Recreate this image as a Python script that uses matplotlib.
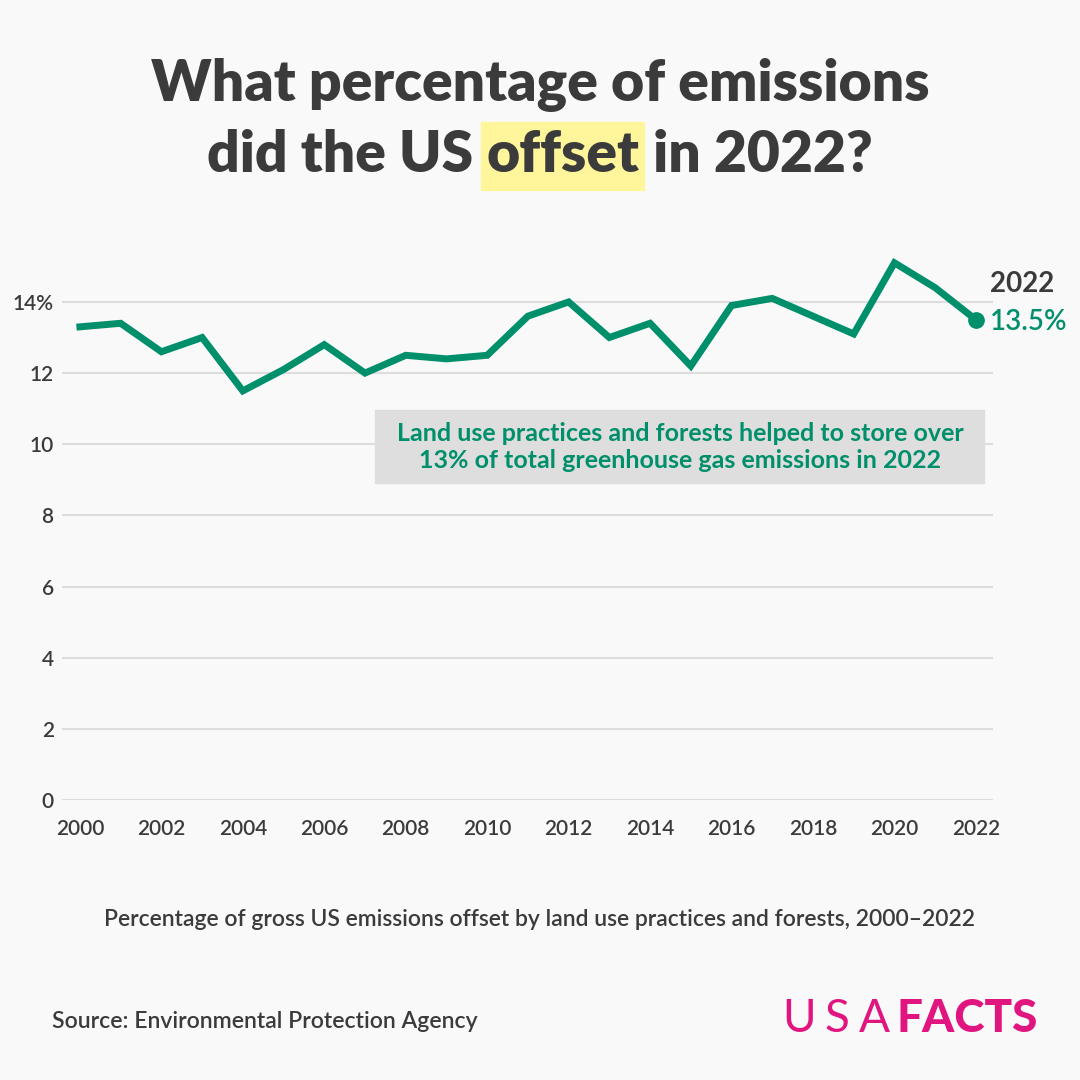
import matplotlib
matplotlib.use("Agg")
import matplotlib.pyplot as plt
from matplotlib.patches import Rectangle

years = list(range(2000, 2023))
offset_pct = [13.3, 13.4, 12.6, 13.0, 11.5, 12.1, 12.8, 12.0, 12.5, 12.4, 12.5, 13.6,
              14.0, 13.0, 13.4, 12.2, 13.9, 14.1, 13.6, 13.1, 15.1, 14.4, 13.5]
y_ticks = [0, 2, 4, 6, 8, 10, 12, 14]
y_tick_labels = ["0", "2", "4", "6", "8", "10", "12", "14%"]
x_ticks = list(range(2000, 2023, 2))

GREEN = "#008f6b"
DARK = "#3b3b3b"
BG = "#f9f9f9"
PINK = "#e0157f"
FONT = "Lato"

W = H = 1080
fig = plt.figure(figsize=(10.8, 10.8), dpi=100, facecolor=BG)

# axes position in pixels: x 62..993, y 250..800 (top-down)
ax = fig.add_axes([62 / W, 1 - 800 / H, (993 - 62) / W, (800 - 250) / H])
ax.set_facecolor(BG)
ax.plot(years, offset_pct, color=GREEN, lw=5, solid_joinstyle="miter", clip_on=False, zorder=3)
ax.plot(years[-1], offset_pct[-1], "o", color=GREEN, ms=11, clip_on=False, zorder=4)
ax.set_xlim(1999.56, 2022.42)
ax.set_ylim(0, 15.46)
ax.set_yticks(y_ticks)
ax.set_yticklabels(y_tick_labels)
ax.set_xticks(x_ticks)
for s in ax.spines.values():
    s.set_visible(False)
ax.grid(axis="y", color="#dddddd", lw=1.5)
ax.set_axisbelow(True)
ax.tick_params(length=0, labelsize=15, colors=DARK, pad=6)
ax.tick_params(axis="x", pad=14)
for lab in ax.get_xticklabels() + ax.get_yticklabels():
    lab.set_fontfamily(FONT)
    lab.set_fontweight("semibold")

# end label
ax.text(2022.35, 14.5, "2022", fontsize=20, fontweight="bold", color=DARK,
        family=FONT, va="center", ha="left")
ax.text(2022.35, 13.45, "13.5%", fontsize=20, color=GREEN, family=FONT,
        fontweight="semibold", va="center", ha="left")

# annotation box
fig.patches.append(Rectangle((375 / W, 1 - 483 / H), (984 - 375) / W, (483 - 410) / H,
                             transform=fig.transFigure, color="#dedede", zorder=1))
fig.text(680 / W, 1 - 447 / H,
         "Land use practices and forests helped to store over\n13% of total greenhouse gas emissions in 2022",
         ha="center", va="center", fontsize=18, color=GREEN, family=FONT,
         fontweight="bold", linespacing=1.2)

# title
fig.text(540 / W, 1 - 85 / H, "What percentage of emissions", ha="center", va="center",
         fontsize=41, fontweight="heavy", color=DARK, family=FONT)

renderer = fig.canvas.get_renderer()
parts = ["did the US ", "offset", " in 2022?"]
texts = []
for p in parts:
    t = fig.text(0, 1 - 155 / H, p, ha="left", va="center", fontsize=41,
                 fontweight="heavy", color=DARK, family=FONT, zorder=3)
    texts.append(t)
widths = [t.get_window_extent(renderer).width for t in texts]
x = (W - sum(widths)) / 2
for t, w in zip(texts, widths):
    t.set_x(x / W)
    x += w
hx = texts[1].get_position()[0] * W
fig.patches.append(Rectangle(((hx - 6) / W, 1 - 190 / H), (widths[1] + 10) / W, 68 / H,
                             transform=fig.transFigure, color="#fff59a", zorder=1))

# subtitle and source
fig.text(540 / W, 1 - 920 / H,
         "Percentage of gross US emissions offset by land use practices and forests, 2000\u20132022",
         ha="center", va="center", fontsize=16.5, fontweight="semibold", color=DARK, family=FONT)
fig.text(52 / W, 1 - 1021 / H, "Source: Environmental Protection Agency",
         ha="left", va="center", fontsize=16.6, fontweight="semibold", color=DARK, family=FONT)

# logo
x = 782
for ch in "USA":
    t = fig.text(x / W, 1 - 1019 / H, ch, ha="left", va="center", fontsize=33,
                 fontweight="normal", color=PINK, family=FONT)
    x += t.get_window_extent(renderer).width + 9
x -= 2
t = fig.text(x / W, 1 - 1019 / H, "FACTS", ha="left", va="center", fontsize=33,
             fontweight="black", color=PINK, family=FONT)

fig.savefig("out.png", dpi=100, facecolor=BG)
